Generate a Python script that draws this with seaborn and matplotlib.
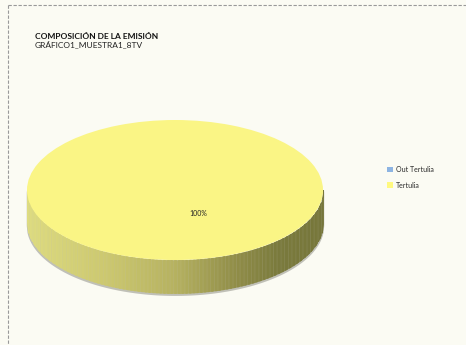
import numpy as np
import matplotlib
matplotlib.use("Agg")
import matplotlib.pyplot as plt
from matplotlib.lines import Line2D
import seaborn as sns

# ---- data ----
categories = ["Out Tertulia", "Tertulia"]
values = [0, 100]
title = "COMPOSICIÓN DE LA EMISIÓN"
subtitle = "GRÁFICO1_MUESTRA1_8TV"

# ---- style ----
sns.set_theme(style="white")
plt.rcParams["font.family"] = ["Lato", "DejaVu Sans"]
bg = "#FBFBF3"
colors = ["#8DB4E2", "#FAF585"]
legend_colors = ["#8DB4E2", "#FFF97F"]

W, H = 466, 345
fig = plt.figure(figsize=(W / 100, H / 100), dpi=100, facecolor=bg)

# pie geometry in pixels
cx, cy = 175, 190   # centre of top face (image coords, y from top)
rx, ry = 148, 70
depth = 33 / ry     # in data units (1 unit = ry px vertically)

xl = (-1.15, 1.15)
yl = (-1.65, 1.2)
ax_w = (xl[1] - xl[0]) * rx
ax_h = (yl[1] - yl[0]) * ry
left = cx + xl[0] * rx
top = cy - yl[1] * ry
ax = fig.add_axes([left / W, 1 - (top + ax_h) / H, ax_w / W, ax_h / H])
ax.set_facecolor("none")

# side wall (extrusion) with gradient
xs = np.linspace(-1, 1, 401)
upper = -np.sqrt(np.clip(1 - xs ** 2, 0, None))
lower = upper - depth
# shadow
ax.fill_between(xs * 1.005, lower - 0.035, upper, color="#9A9A90", lw=0, alpha=0.6)
stops_x = [-1.0, -0.5, 0.0, 0.4, 0.7, 1.0]
stops_c = np.array([[222, 220, 128], [206, 202, 112], [182, 178, 96],
                    [145, 142, 72], [122, 122, 60], [118, 118, 58]]) / 255
n = 160
edges = np.linspace(-1, 1, n + 1)
for i in range(n):
    seg = (xs >= edges[i] - 1e-9) & (xs <= edges[i + 1] + 1e-9)
    xm = 0.5 * (edges[i] + edges[i + 1])
    c = [np.interp(xm, stops_x, stops_c[:, k]) for k in range(3)]
    ax.fill_between(xs[seg], lower[seg], upper[seg], color=c, lw=0.6, edgecolor=c)
ax.fill_between([-1, -0.995], [-depth, -depth], [0, 0], color=stops_c[0], lw=0)

# top face
wedges, texts, autotexts = ax.pie(
    values, colors=colors, startangle=115, counterclock=True,
    autopct=lambda p: f"{p:.0f}%" if p > 0 else "",
    pctdistance=0.37, wedgeprops=dict(linewidth=0),
    textprops=dict(fontsize=5, color="#222222"),
)
for w in wedges:
    w.set_zorder(3)
for t in autotexts:
    t.set_zorder(4)
ax.set_aspect("auto")
ax.set_xlim(*xl)
ax.set_ylim(*yl)
ax.axis("off")

# legend
handles = [plt.Rectangle((0, 0), 1, 1, facecolor=c, edgecolor="none") for c in legend_colors]
fig.legend(handles, categories, loc="upper left",
           bbox_to_anchor=(387 / W, 1 - 166 / H), frameon=False,
           fontsize=5, handlelength=0.9, handleheight=0.9, handletextpad=0.35,
           labelspacing=1.25, borderpad=0, borderaxespad=0)

# titles
fig.text(35 / W, 1 - 36.5 / H, title, fontsize=6, fontweight="bold",
         va="center", ha="left", color="#111111")
fig.text(35 / W, 1 - 44 / H, subtitle, fontsize=6, va="center", ha="left",
         color="#222222")

# dashed border
fig.add_artist(Line2D([7.5 / W, 7.5 / W], [1 - 4.5 / H, -0.1],
                      transform=fig.transFigure, color="#999999", lw=0.8,
                      dashes=(3, 1.5)))
fig.add_artist(Line2D([7.5 / W, 1.1], [1 - 4.5 / H, 1 - 4.5 / H],
                      transform=fig.transFigure, color="#999999", lw=0.8,
                      dashes=(3, 1.5)))

fig.savefig("out.png", dpi=100, facecolor=bg)
